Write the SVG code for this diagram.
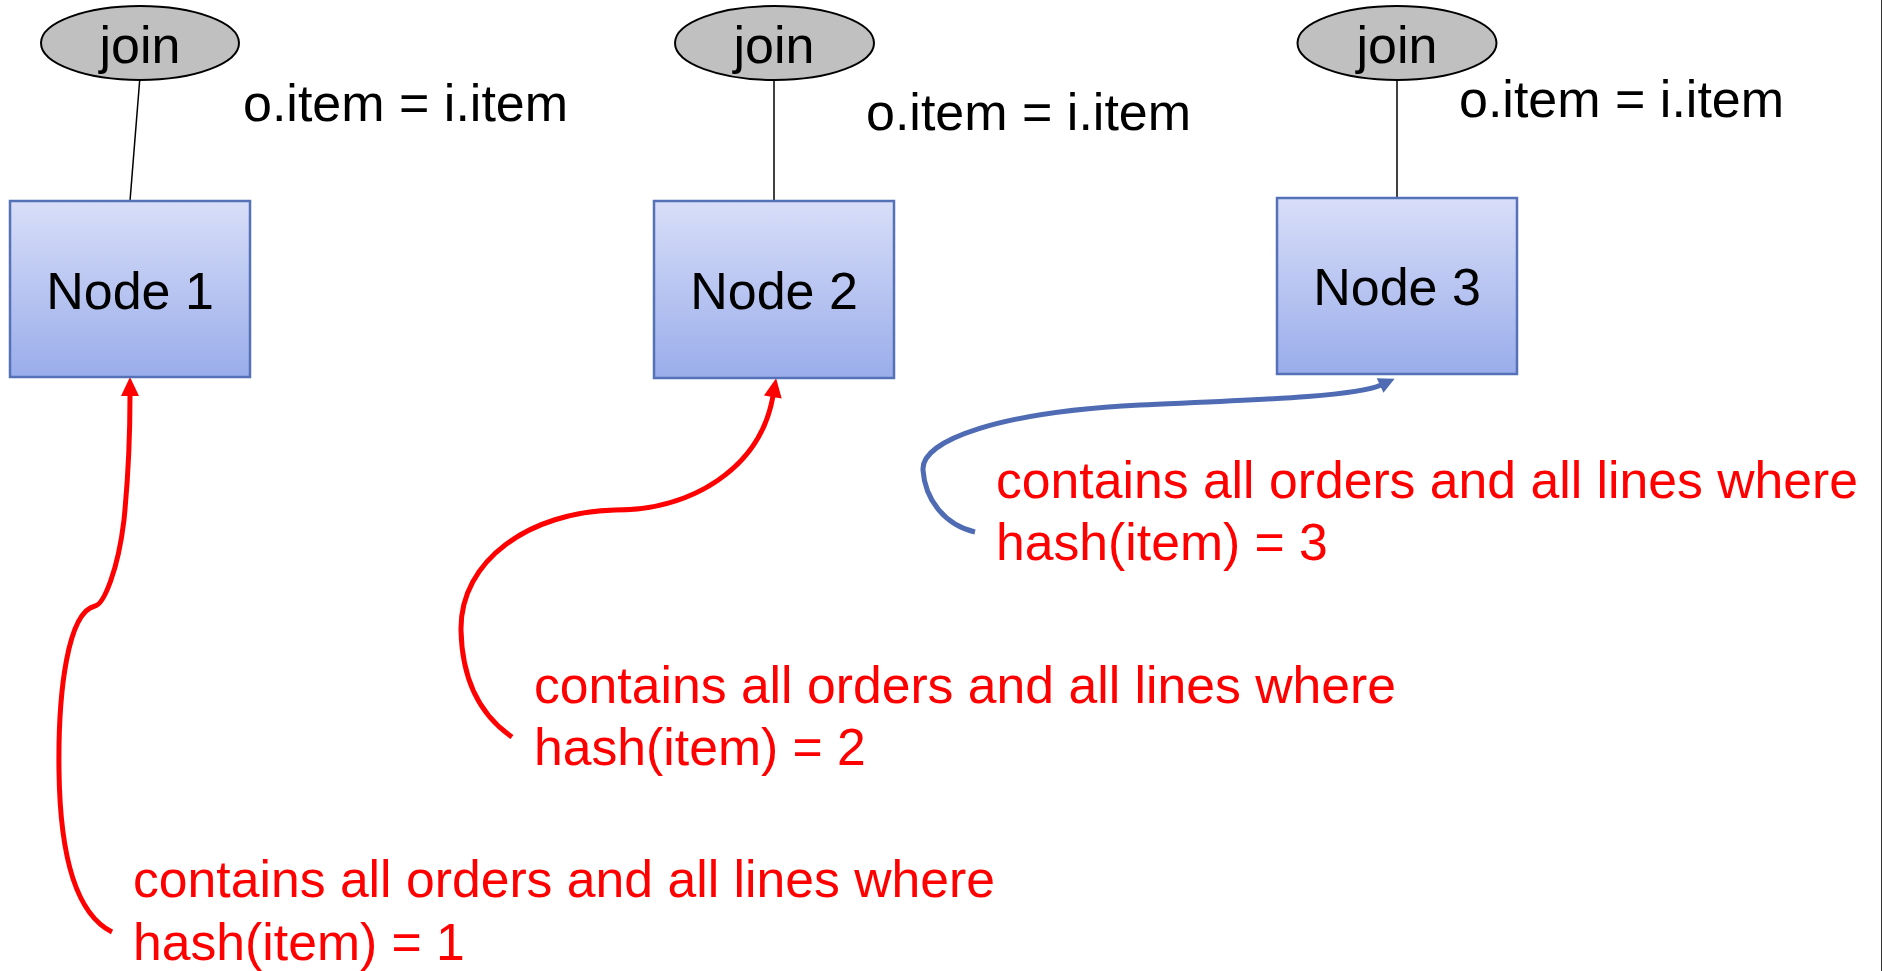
<svg xmlns="http://www.w3.org/2000/svg" width="1882" height="971" viewBox="0 0 1882 971">
  <defs>
    <linearGradient id="nodeFill" x1="0" y1="0" x2="0" y2="1">
      <stop offset="0" stop-color="#d8def8"/>
      <stop offset="1" stop-color="#9aadeb"/>
    </linearGradient>
    <marker id="arrowRed" markerUnits="userSpaceOnUse" markerWidth="20" markerHeight="20" refX="0" refY="0" orient="auto" overflow="visible">
      <path d="M-1,-9 L18,0 L-1,9 Z" fill="#ff0000"/>
    </marker>
    <marker id="arrowBlue" markerUnits="userSpaceOnUse" markerWidth="20" markerHeight="20" refX="0" refY="0" orient="auto" overflow="visible">
      <path d="M-1,-8 L15,0 L-1,8 Z" fill="#4e6bb3"/>
    </marker>
  </defs>
  <style>
    .join { fill: #c0c0c0; stroke: #000; stroke-width: 2; }
    .node { fill: url(#nodeFill); stroke: #5572b8; stroke-width: 2.5; }
    .lbl { font-family: "Liberation Sans", Arial, sans-serif; font-size: 52px; fill: #000; }
    .red { font-family: "Liberation Sans", Arial, sans-serif; font-size: 51.7px; fill: #ff0000; }
    .mid { text-anchor: middle; }
    .link { stroke: #000; stroke-width: 1.5; fill: none; }
    .redc { stroke: #ff0000; stroke-width: 5; fill: none; marker-end: url(#arrowRed); }
    .bluec { stroke: #4e6bb3; stroke-width: 5; fill: none; marker-end: url(#arrowBlue); }
  </style>
  <rect x="0" y="0" width="1882" height="971" fill="#ffffff"/>
  <line x1="1881.5" y1="0" x2="1881.5" y2="971" stroke="#333" stroke-width="1"/>

  <g id="connectors">
    <line class="link" x1="139.7" y1="80" x2="130" y2="201"/>
    <line class="link" x1="774" y1="80" x2="774" y2="201"/>
    <line class="link" x1="1397" y1="79.5" x2="1397" y2="198"/>
    <path class="redc" d="M 112 932 C 78 915, 60 860, 59 770 C 58 690, 68 612, 95 606 C 104 604, 118 570, 124 520 C 128 480, 130 430, 130 395"/>
    <path class="redc" d="M 512 737 C 480 715, 462 680, 461 630 C 460 560, 530 512, 615 510 C 690 510, 760 470, 773 396"/>
    <path class="bluec" d="M 975 532 C 945 525, 925 500, 923 470 C 921 440, 1000 412, 1140 405 C 1250 400, 1355 397, 1381 385"/>
  </g>

  <g id="join1">
    <ellipse class="join" cx="140" cy="43" rx="99" ry="37"/>
    <text class="lbl mid" x="140" y="63">join</text>
  </g>
  <g id="join2">
    <ellipse class="join" cx="774.5" cy="43" rx="99.5" ry="37"/>
    <text class="lbl mid" x="774" y="63">join</text>
  </g>
  <g id="join3">
    <ellipse class="join" cx="1397" cy="43" rx="99.5" ry="37"/>
    <text class="lbl mid" x="1397" y="63">join</text>
  </g>

  <g id="cond1"><text class="lbl" x="243" y="121">o.item = i.item</text></g>
  <g id="cond2"><text class="lbl" x="866" y="130">o.item = i.item</text></g>
  <g id="cond3"><text class="lbl" x="1459" y="116.5">o.item = i.item</text></g>

  <g id="node1">
    <rect class="node" x="10" y="201" width="240" height="176"/>
    <text class="lbl mid" x="130" y="309">Node 1</text>
  </g>
  <g id="node2">
    <rect class="node" x="654" y="201" width="240" height="177"/>
    <text class="lbl mid" x="774" y="309">Node 2</text>
  </g>
  <g id="node3">
    <rect class="node" x="1277" y="198" width="240" height="176"/>
    <text class="lbl mid" x="1397" y="305">Node 3</text>
  </g>

  <g id="note1">
    <text class="red" x="133" y="897">contains all orders and all lines where</text>
    <text class="red" x="133" y="960">hash(item) = 1</text>
  </g>
  <g id="note2">
    <text class="red" x="534" y="703">contains all orders and all lines where</text>
    <text class="red" x="534" y="765">hash(item) = 2</text>
  </g>
  <g id="note3">
    <text class="red" x="996" y="498">contains all orders and all lines where</text>
    <text class="red" x="996" y="560">hash(item) = 3</text>
  </g>
</svg>
